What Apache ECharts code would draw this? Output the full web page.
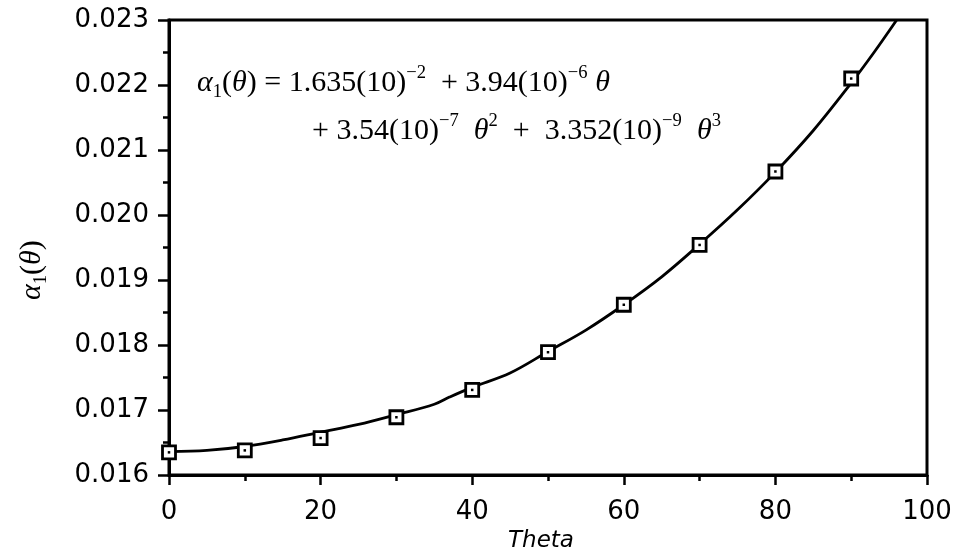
<!DOCTYPE html>
<html>
<head>
<meta charset="utf-8">
<script src="https://cdn.jsdelivr.net/npm/echarts@6/dist/echarts.min.js"></script>
<style>html,body{margin:0;padding:0;background:#fff}#c{width:958px;height:558px}</style>
</head>
<body>
<div id="c"></div>
<script>
// Measured data points (squares)
const thetaPts = [0, 10, 20, 30, 40, 50, 60, 70, 80, 90];
const alphaPts = [0.01635, 0.01638, 0.01657, 0.01689, 0.01731, 0.01789, 0.01862, 0.01954, 0.02067, 0.02210];
// Fitted curve
const thetaCurve = [0, 5, 10, 15, 20, 25, 30, 35, 37, 40, 45, 50, 55, 60, 65, 70, 75, 80, 85, 90, 93, 96];
const alphaCurve = [0.01636, 0.01638, 0.01644, 0.01654, 0.01666, 0.01678, 0.01693, 0.01709, 0.01720, 0.01735, 0.01757, 0.01790, 0.01823, 0.01862, 0.01905, 0.01955, 0.02008, 0.02066, 0.02130, 0.02203, 0.02250, 0.02300];
const xTicks = [0, 20, 40, 60, 80, 100];
const yTicks = [0.016, 0.017, 0.018, 0.019, 0.020, 0.021, 0.022, 0.023];

const chart = echarts.init(document.getElementById('c'));
const ctx = document.createElement('canvas').getContext('2d');
const SERIF = '"Liberation Serif", "Times New Roman", serif';

function layout(pieces, size) {
  let x = 0; const out = [];
  for (const [t, k] of pieces) {
    let fs = size, dy = 0, st = 'normal';
    if (k === 'i') st = 'italic';
    if (k === 'sup') { fs = size * 0.62; dy = -size * 0.45; }
    if (k === 'sub') { fs = size * 0.62; dy = size * 0.18; }
    const font = st + ' ' + fs.toFixed(1) + 'px ' + SERIF;
    ctx.font = font;
    const w = ctx.measureText(t).width;
    out.push({ type: 'text', x: x, y: dy - 0.34 * fs,
      style: { text: t, font: font, fill: '#000', align: 'left', verticalAlign: 'middle' } });
    x += w;
  }
  return out;
}

const line1 = [['α','i'],['1','sub'],['(','r'],['θ','i'],[')','r'],[' = 1.635(10)','r'],['−2','sup'],['  + 3.94(10)','r'],['−6','sup'],[' ','r'],['θ','i']];
const line2 = [['+ 3.54(10)','r'],['−7','sup'],['  ','r'],['θ','i'],['2','sup'],['  +  3.352(10)','r'],['−9','sup'],['  ','r'],['θ','i'],['3','sup']];
const yTitle = [['α','i'],['1','sub'],['(','r'],['θ','i'],[')','r']];

const SANS = '"DejaVu Sans", "Open Sans", sans-serif';

chart.setOption({
  animation: false,
  backgroundColor: '#fff',
  grid: { left: 169, right: 31, top: 20, bottom: 76, show: true, borderColor: '#000', borderWidth: 3 },
  xAxis: {
    type: 'value', min: 0, max: 100, interval: 20,
    name: 'Theta', nameLocation: 'middle', nameGap: 48,
    nameTextStyle: { fontFamily: SANS, fontStyle: 'italic', fontSize: 23, color: '#000', padding: [0, 14, 0, 0] },
    axisLine: { show: true, onZero: false, lineStyle: { color: '#000', width: 3 } },
    axisTick: { show: true, inside: false, length: 10, lineStyle: { color: '#000', width: 2.5 } },
    minorTick: { show: true, splitNumber: 2, length: 6, lineStyle: { color: '#000', width: 2.5 } },
    axisLabel: { color: '#000', fontFamily: SANS, fontSize: 26, margin: 24,
      formatter: v => xTicks.includes(v) ? String(v) : '' },
    splitLine: { show: false }
  },
  yAxis: {
    type: 'value', min: 0.016, max: 0.023, interval: 0.001,
    axisLine: { show: true, onZero: false, lineStyle: { color: '#000', width: 3 } },
    axisTick: { show: true, inside: false, length: 11, lineStyle: { color: '#000', width: 2.5 } },
    minorTick: { show: true, splitNumber: 2, length: 6, lineStyle: { color: '#000', width: 2.5 } },
    axisLabel: { color: '#000', fontFamily: SANS, fontSize: 26, margin: 20,
      formatter: v => { const s = v.toFixed(3); return yTicks.some(t => t.toFixed(3) === s) ? s : ''; } },
    splitLine: { show: false }
  },
  graphic: [
    { type: 'group', x: 197, y: 93, children: layout(line1, 30) },
    { type: 'group', x: 312, y: 141, children: layout(line2, 30) },
    { type: 'group', x: 42, y: 300, rotation: Math.PI / 2, children: layout(yTitle, 30) }
  ],
  series: [
    {
      type: 'line', data: thetaCurve.map((t, i) => [t, alphaCurve[i]]),
      smooth: 0.35, showSymbol: false, clip: true,
      lineStyle: { color: '#000', width: 2.8 }, z: 2
    },
    {
      type: 'scatter', data: thetaPts.map((t, i) => [t, alphaPts[i]]),
      symbol: 'rect', symbolSize: 13,
      itemStyle: { color: '#fff', borderColor: '#000', borderWidth: 2.8, opacity: 1 }, z: 3
    },
    {
      type: 'scatter', data: thetaPts.map((t, i) => [t, alphaPts[i]]),
      symbol: 'rect', symbolSize: 2.5,
      itemStyle: { color: '#000', opacity: 1 }, z: 4
    }
  ]
});
</script>
</body>
</html>
